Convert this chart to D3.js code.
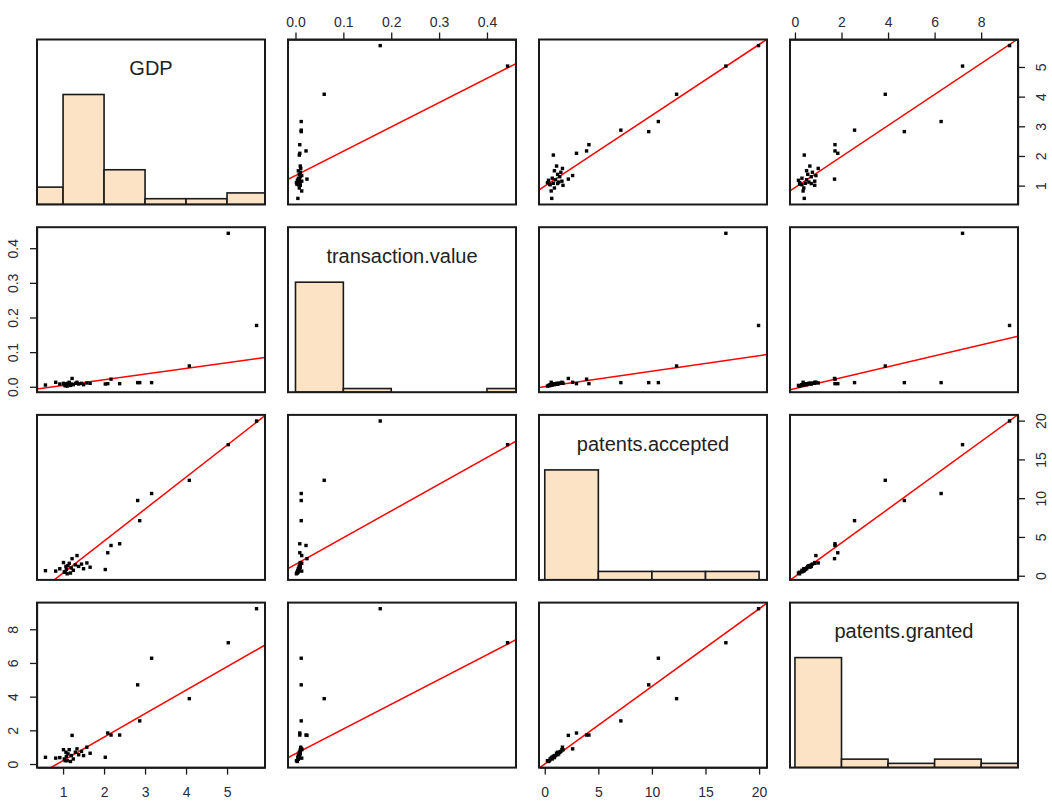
<!DOCTYPE html>
<html><head><meta charset="utf-8">
<script src="https://cdn.jsdelivr.net/npm/d3@7"></script>
<style>body{margin:0;background:#fff}</style></head>
<body><svg id="c" width="1052" height="803"></svg>
<script>
// ---- data (32 observations) ----
const varNames = ["GDP", "transaction.value", "patents.accepted", "patents.granted"];
const gdp =              [5.72, 5.03, 4.08, 3.16, 2.82, 2.87, 2.09, 2.38, 2.17, 2.03, 0.57, 1.22, 1.34, 1.66, 1.58, 0.82, 0.92, 1.05, 1.01, 1.07, 1.03, 1.08, 1.12, 1.15, 1.18, 1.20, 1.25, 1.30, 1.38, 1.45, 1.10, 1.50];
const transactionValue = [0.177, 0.443, 0.060, 0.012, 0.012, 0.012, 0.009, 0.009, 0.022, 0.008, 0.005, 0.024, 0.013, 0.010, 0.011, 0.013, 0.008, 0.003, 0.010, 0.008, 0.006, 0.008, 0.010, 0.013, 0.004, 0.008, 0.006, 0.010, 0.008, 0.010, 0.002, 0.006];
const patentsAccepted =  [19.95, 16.9, 12.3, 10.6, 9.7, 7.1, 2.96, 4.12, 3.9, 0.8, 0.65, 2.2, 2.6, 1.1, 1.65, 0.6, 0.9, 0.45, 1.7, 1.2, 0.5, 0.8, 1.3, 1.6, 0.35, 1.0, 0.7, 1.4, 1.2, 1.5, 0.25, 0.9];
const patentsGranted =   [9.22, 7.2, 3.88, 6.28, 4.7, 2.56, 1.84, 1.72, 1.72, 0.4, 0.4, 1.7, 0.9, 0.64, 1.0, 0.35, 0.38, 0.2, 0.85, 0.7, 0.3, 0.45, 0.6, 0.85, 0.15, 0.5, 0.3, 0.7, 0.55, 0.75, 0.2, 0.5];
const tickValues = [[1, 2, 3, 4, 5], [0, 0.1, 0.2, 0.3, 0.4], [0, 5, 10, 15, 20], [0, 2, 4, 6, 8]];
const tickFormats = ["d", ".1f", "d", "d"];
const histBreaks = [[0, 1, 2, 3, 4, 5, 6], [0, 0.1, 0.2, 0.3, 0.4, 0.5], [0, 5, 10, 15, 20], [0, 2, 4, 6, 8, 10]];
// fitted red lines: row variable = intercept + slope * column variable
const lineIntercepts = [
  [null, 1.34, 0.988, 0.935],
  [-0.0122, null, 0.0005, -0.0055],
  [-3.77, 1.45, null, -0.124],
  [-1.19, 0.605, 0.0, null]
];
const lineSlopes = [
  [null, 8.19, 0.2385, 0.523],
  [0.01636, null, 0.00447, 0.01579],
  [4.12, 34.5, null, 2.18],
  [1.393, 14.7, 0.4607, null]
];

const vars = [gdp, transactionValue, patentsAccepted, patentsGranted];
const n = vars.length;

// ---- layout ----
const colX = [37, 288, 539, 790], rowY = [39.5, 227.2, 414.9, 602.6];
const PW = 228, PH = 165;
const svg = d3.select("#c");
const font = "'Liberation Sans', Arial, sans-serif";

// scales per variable (4% expansion like R)
const xScales = vars.map(v => {
  const [a, b] = d3.extent(v); const e = (b - a) * 0.04;
  return d3.scaleLinear().domain([a - e, b + e]).range([0, PW]);
});
const yScales = vars.map(v => {
  const [a, b] = d3.extent(v); const e = (b - a) * 0.04;
  return d3.scaleLinear().domain([a - e, b + e]).range([PH, 0]);
});

const defs = svg.append("defs");
defs.append("clipPath").attr("id", "clip").append("rect").attr("width", PW).attr("height", PH);

for (let r = 0; r < n; r++) {
  for (let c = 0; c < n; c++) {
    const g = svg.append("g").attr("transform", `translate(${colX[c]},${rowY[r]})`);
    const inner = g.append("g").attr("clip-path", "url(#clip)");
    if (r === c) {
      const v = vars[c], br = histBreaks[c];
      const bins = br.slice(0, -1).map((lo, i) => {
        const hi = br[i + 1];
        return { lo, hi, count: v.filter(x => (i === 0 ? x >= lo : x > lo) && x <= hi).length };
      });
      const maxC = d3.max(bins, d => d.count);
      const x = xScales[c];
      const y = d3.scaleLinear().domain([0, 1.5]).range([PH, 0]);
      inner.selectAll("rect.bar").data(bins).join("rect")
        .attr("x", d => x(d.lo)).attr("width", d => x(d.hi) - x(d.lo))
        .attr("y", d => y(d.count / maxC)).attr("height", d => y(0) - y(d.count / maxC))
        .attr("fill", "#fde3c6").attr("stroke", "#1a1a1a").attr("stroke-width", 1.6);
      g.append("text").attr("x", PW / 2).attr("y", PH * (1 - 0.825))
        .attr("text-anchor", "middle").attr("dominant-baseline", "central")
        .attr("font-family", font).attr("font-size", 20).attr("fill", "#222")
        .text(varNames[c]);
    } else {
      const xs = vars[c], ys = vars[r];
      const x = xScales[c], y = yScales[r];
      const a = lineIntercepts[r][c], b = lineSlopes[r][c];
      const [d0, d1] = x.domain();
      inner.append("line")
        .attr("x1", x(d0)).attr("y1", y(a + b * d0))
        .attr("x2", x(d1)).attr("y2", y(a + b * d1))
        .attr("stroke", "#ff0000").attr("stroke-width", 1.5);
      inner.selectAll("rect.pt").data(xs.map((v, i) => [v, ys[i]])).join("rect")
        .attr("x", d => x(d[0]) - 1.7).attr("y", d => y(d[1]) - 1.7)
        .attr("width", 3.4).attr("height", 3.4).attr("fill", "#000");
    }
    g.append("rect").attr("width", PW).attr("height", PH)
      .attr("fill", "none").attr("stroke", "#1a1a1a").attr("stroke-width", 2);

    // axes like R pairs
    const fmt = d3.format(tickFormats[c]);
    const fmtR = d3.format(tickFormats[r]);
    function styleAxis(ag) {
      ag.select(".domain").attr("stroke", "#1a1a1a").attr("stroke-width", 1.3);
      ag.selectAll(".tick line").attr("stroke", "#1a1a1a").attr("stroke-width", 1.3);
      ag.selectAll("text").attr("font-family", font).attr("font-size", 14).attr("fill", "#2a2a3a");
    }
    if (r === 0 && c % 2 === 1) {
      const ag = g.append("g").call(d3.axisTop(xScales[c]).tickValues(tickValues[c]).tickFormat(fmt).tickSize(7).tickSizeOuter(0));
      styleAxis(ag);
      ag.selectAll("text").attr("y", -17.5).attr("dy", "0.35em");
    }
    if (r === n - 1 && c % 2 === 0) {
      const ag = g.append("g").attr("transform", `translate(0,${PH})`)
        .call(d3.axisBottom(xScales[c]).tickValues(tickValues[c]).tickFormat(fmt).tickSize(7).tickSizeOuter(0));
      styleAxis(ag);
      ag.selectAll("text").attr("y", 24.5).attr("dy", "0.35em");
    }
    if (c === 0 && r % 2 === 1) {
      const ag = g.append("g").call(d3.axisLeft(yScales[r]).tickValues(tickValues[r]).tickFormat(fmtR).tickSize(7).tickSizeOuter(0));
      styleAxis(ag);
      ag.selectAll("text").attr("x", 0).attr("y", 0).attr("dy", "0.35em").attr("text-anchor", "middle")
        .attr("transform", "translate(-23.5,0) rotate(-90)");
    }
    if (c === n - 1 && r % 2 === 0) {
      const ag = g.append("g").attr("transform", `translate(${PW},0)`)
        .call(d3.axisRight(yScales[r]).tickValues(tickValues[r]).tickFormat(fmtR).tickSize(7).tickSizeOuter(0));
      styleAxis(ag);
      ag.selectAll("text").attr("x", 0).attr("y", 0).attr("dy", "0.35em").attr("text-anchor", "middle")
        .attr("transform", "translate(23,0) rotate(-90)");
    }
  }
}
</script>
</body></html>
